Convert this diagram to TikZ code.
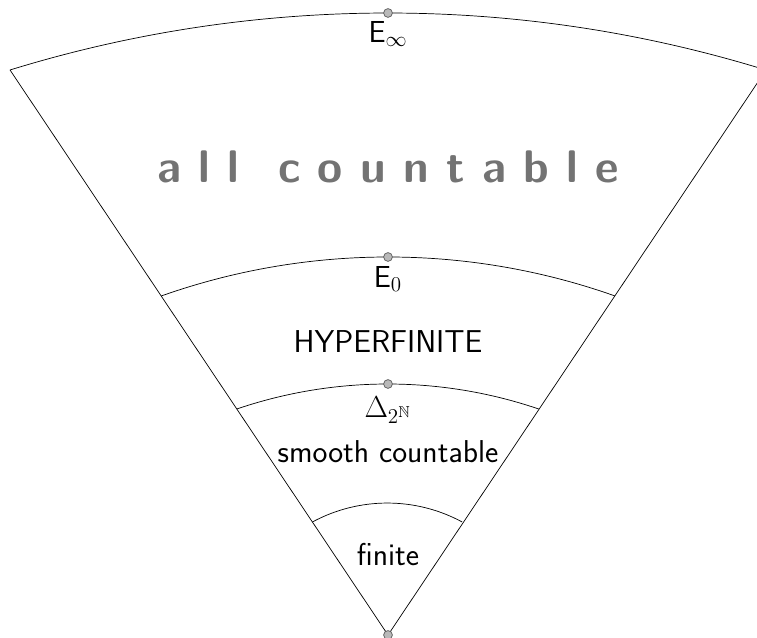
\documentclass[tikz,border=0pt]{standalone}
\usepackage{amsmath, amssymb}
\usepackage{tikz}
\usetikzlibrary{calc}

\begin{document}
\begin{tikzpicture}[
    x=0.02cm, y=0.02cm,
    every node/.style={font=\sffamily},
    dot/.style={circle, fill=gray!55, draw=gray!70!black, inner sep=0pt, minimum size=5pt},
    lbl/.style={font=\sffamily\fontsize{18}{20}\selectfont},
    big/.style={font=\sffamily\bfseries\fontsize{26}{30}\selectfont, text=black!55}
]
\useasboundingbox (0,0) rectangle (757,638);
\coordinate (O) at (388,3);
\coordinate (L) at (10,568);
\coordinate (R) at (766,568);
\foreach \t/\n in {0.2/a, 0.4/b, 0.6/c}{
    \coordinate (l\n) at ($(O)!\t!(L)$);
    \coordinate (r\n) at ($(O)!\t!(R)$);
}
% the cone
\draw (L) -- (O) -- (R);
% levels
\draw (L)  arc[start angle=107.15, end angle=72.85, radius=25.64cm];
\draw (lc) arc[start angle=109.5,  end angle=70.5,  radius=13.60cm];
\draw (lb) arc[start angle=108.8,  end angle=71.2,  radius=9.37cm];
\draw (la) arc[start angle=118.4,  end angle=61.6,  radius=3.15cm];
% points
\node[dot] (Einf) at (388,625) {};
\node[dot] (Ezero) at (388,381) {};
\node[dot] (Delta) at (388,254) {};
\node[dot] (apex) at (O) {};
% labels
\node[lbl] (einf) at (388,604) {$\mathsf{E}_\infty$};
\node[big] (all) at (388,471) {a\hspace{0.38em}l\hspace{0.38em}l\hspace{0.85em}c\hspace{0.38em}o\hspace{0.38em}u\hspace{0.38em}n\hspace{0.38em}t\hspace{0.38em}a\hspace{0.38em}b\hspace{0.38em}l\hspace{0.38em}e};
\node[lbl] (ezero) at (388,359) {$\mathsf{E}_0$};
\node[lbl] (hyp) at (388,296) {HYPERFINITE};
\node[lbl] (delta) at (388,228) {$\Delta_{2^{\mathbb{N}}}$};
\node[lbl] (smooth) at (388,186) {smooth countable};
\node[lbl] (fin) at (388,83) {finite};
\end{tikzpicture}
\end{document}
